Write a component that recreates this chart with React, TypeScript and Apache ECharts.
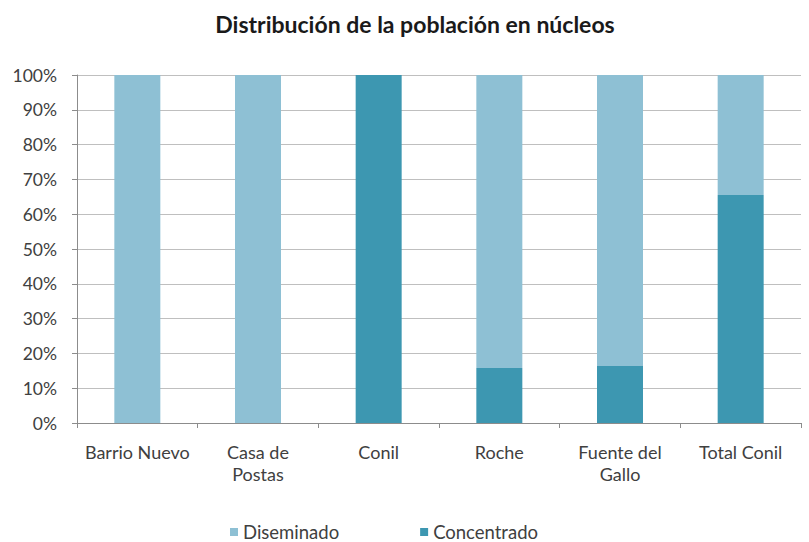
import React, { useEffect, useRef } from "react";
import * as echarts from "echarts";

const categories = ["Barrio Nuevo", "Casa de\nPostas", "Conil", "Roche", "Fuente del\nGallo", "Total Conil"];
const concentrado = [0, 0, 100, 15.8, 16.4, 65.5];
const diseminado = [100, 100, 0, 84.2, 83.6, 34.5];
const titleText = "Distribución de la población en núcleos";
const legendNames = ["Diseminado", "Concentrado"];

const FONT = "Lato, 'Open Sans', sans-serif";

export default function App() {
  const ref = useRef<HTMLDivElement>(null);
  useEffect(() => {
    if (!ref.current) return;
    const chart = echarts.init(ref.current, undefined, { renderer: "svg" });
    chart.setOption({
      animation: false,
      backgroundColor: "#ffffff",
      title: {
        text: titleText,
        left: 410,
        textAlign: "center",
        top: 7,
        textStyle: { fontFamily: FONT, fontSize: 23, fontWeight: "bold", color: "#1a1a1a" },
      },
      legend: {
        top: 522,
        left: 230,
        padding: 0,
        itemWidth: 8,
        itemHeight: 8,
        itemGap: 81,
        icon: "rect",
        data: legendNames,
        textStyle: { fontFamily: FONT, fontSize: 18.5, color: "#404040", lineHeight: 20 },
      },
      grid: { left: 77, right: 8, top: 75, bottom: 119, containLabel: false },
      xAxis: {
        type: "category",
        data: categories,
        axisLine: { lineStyle: { color: "#8c8c8c" } },
        axisTick: { show: true, length: 5, lineStyle: { color: "#8c8c8c" } },
        axisLabel: {
          fontFamily: FONT,
          fontSize: 18,
          color: "#404040",
          margin: 18,
          lineHeight: 22,
          interval: 0,
        },
      },
      yAxis: {
        type: "value",
        min: 0,
        max: 100,
        interval: 10,
        axisLine: { show: true, lineStyle: { color: "#8c8c8c" } },
        axisTick: { show: true, length: 5, lineStyle: { color: "#8c8c8c" } },
        splitLine: { lineStyle: { color: "#bfbfbf" } },
        axisLabel: {
          fontFamily: FONT,
          fontSize: 17.5,
          color: "#404040",
          margin: 20,
          formatter: "{value}%",
        },
      },
      series: [
        {
          name: "Concentrado",
          type: "bar",
          stack: "total",
          barWidth: 46,
          data: concentrado,
          itemStyle: { color: "#3D97B1" },
        },
        {
          name: "Diseminado",
          type: "bar",
          stack: "total",
          barWidth: 46,
          data: diseminado,
          itemStyle: { color: "#8EC0D4" },
        },
      ],
    });
    return () => chart.dispose();
  }, []);
  return (
    <div
      ref={ref}
      style={{ position: "absolute", left: 0, top: 0, width: 809, height: 542 }}
    />
  );
}
